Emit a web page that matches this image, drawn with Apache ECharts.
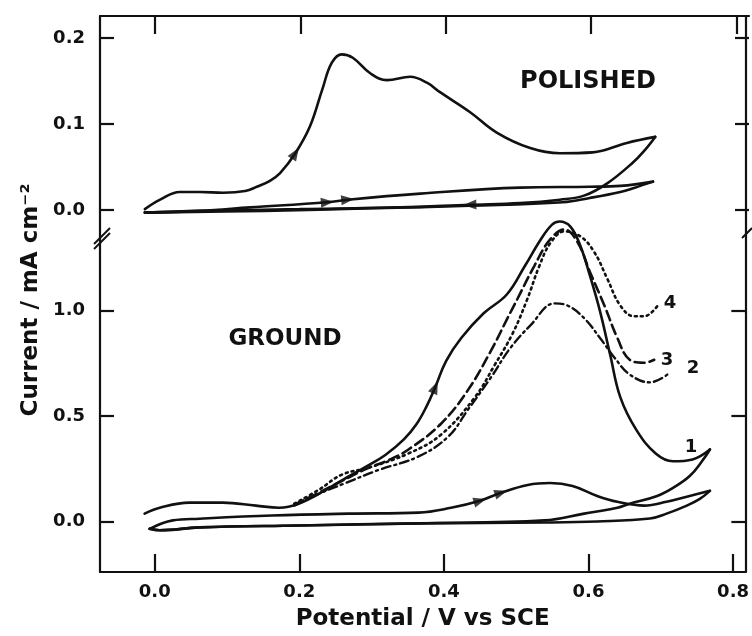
<!DOCTYPE html>
<html><head><meta charset="utf-8">
<script src="https://cdn.jsdelivr.net/npm/echarts@6/dist/echarts.min.js"></script>
<style>html,body{margin:0;padding:0;background:#fff}#c{width:752px;height:636px}</style>
</head><body><div id="c"></div>
<script>
// ---- tick labels ----
const xTicks = [0, 0.2, 0.4, 0.6, 0.8];
const yTicksTop = [0, 0.1, 0.2];
const yTicksBottom = [0, 0.5, 1.0];

// ---- POLISHED electrode (potential V, current mA cm^-2) ----
const polished1Fwd = [[-0.014,0.001],[0.007,0.012],[0.034,0.021],[0.062,0.021],[0.094,0.020],[0.124,0.022],[0.140,0.027],[0.158,0.034],[0.172,0.043],[0.193,0.066],[0.213,0.097],[0.230,0.140],[0.243,0.171],[0.257,0.181],[0.272,0.177],[0.296,0.159],[0.319,0.151],[0.351,0.155],[0.374,0.148],[0.392,0.137],[0.433,0.114],[0.470,0.090],[0.516,0.072],[0.557,0.066],[0.602,0.067],[0.649,0.078],[0.688,0.085]];
const polished1Rev = [[0.688,0.085],[0.674,0.070],[0.657,0.055],[0.622,0.031],[0.591,0.017],[0.557,0.012],[0.502,0.008],[0.433,0.006],[0.337,0.003],[0.199,0.001],[0.062,-0.001],[-0.014,-0.003]];
const polished2Fwd = [[-0.014,-0.003],[0.062,-0.001],[0.131,0.003],[0.237,0.009],[0.265,0.012],[0.365,0.019],[0.502,0.026],[0.598,0.027],[0.640,0.028],[0.685,0.033]];
const polished2Rev = [[0.685,0.033],[0.660,0.026],[0.640,0.021],[0.598,0.014],[0.561,0.009],[0.433,0.005],[0.300,0.002],[0.150,-0.001],[-0.014,-0.003]];

// ---- GROUND electrode ----
const ground1Fwd = [[-0.014,0.037],[0.007,0.065],[0.048,0.089],[0.094,0.089],[0.140,0.075],[0.172,0.065],[0.199,0.084],[0.237,0.150],[0.259,0.195],[0.290,0.255],[0.319,0.315],[0.345,0.390],[0.362,0.460],[0.376,0.545],[0.388,0.636],[0.403,0.760],[0.424,0.869],[0.455,0.986],[0.487,1.075],[0.512,1.210],[0.534,1.336],[0.550,1.407],[0.560,1.421],[0.575,1.397],[0.589,1.304],[0.602,1.164],[0.616,0.995],[0.630,0.790],[0.644,0.589],[0.666,0.435],[0.693,0.322],[0.717,0.285],[0.744,0.294],[0.768,0.341]];
const ground1Rev = [[0.768,0.341],[0.757,0.285],[0.740,0.215],[0.717,0.159],[0.695,0.121],[0.657,0.084],[0.640,0.065],[0.594,0.037],[0.539,0.005],[0.365,-0.009],[0.199,-0.019],[0.062,-0.028],[0.007,-0.042],[-0.007,-0.035]];
const groundScan2Fwd = [[-0.007,-0.035],[0.025,0.005],[0.062,0.013],[0.162,0.028],[0.268,0.037],[0.365,0.042],[0.410,0.065],[0.450,0.098],[0.479,0.136],[0.516,0.173],[0.547,0.182],[0.578,0.168],[0.612,0.121],[0.640,0.093],[0.677,0.075],[0.708,0.093],[0.740,0.121],[0.768,0.145]];
const groundScan2Rev = [[0.768,0.145],[0.754,0.107],[0.736,0.075],[0.708,0.037],[0.685,0.014],[0.612,0.000],[0.539,-0.005],[0.365,-0.009],[0.199,-0.019],[0.062,-0.028],[0.007,-0.042],[-0.007,-0.035]];
const ground2 = [[0.193,0.075],[0.227,0.131],[0.261,0.178],[0.309,0.243],[0.365,0.308],[0.406,0.402],[0.433,0.528],[0.465,0.682],[0.492,0.822],[0.520,0.930],[0.553,1.033],[0.571,1.023],[0.594,0.963],[0.616,0.869],[0.636,0.776],[0.657,0.696],[0.685,0.659],[0.713,0.706]];
const ground3 = [[0.193,0.079],[0.227,0.136],[0.259,0.192],[0.292,0.248],[0.323,0.290],[0.351,0.341],[0.396,0.463],[0.433,0.621],[0.465,0.808],[0.488,0.963],[0.502,1.056],[0.525,1.210],[0.547,1.336],[0.567,1.383],[0.585,1.322],[0.602,1.182],[0.622,1.023],[0.640,0.869],[0.657,0.766],[0.677,0.752],[0.691,0.766]];
const ground4 = [[0.193,0.084],[0.227,0.150],[0.259,0.222],[0.296,0.255],[0.351,0.322],[0.396,0.411],[0.443,0.589],[0.470,0.740],[0.495,0.890],[0.515,1.050],[0.532,1.210],[0.548,1.322],[0.567,1.374],[0.589,1.350],[0.608,1.276],[0.626,1.150],[0.644,1.023],[0.663,0.972],[0.677,0.972],[0.695,1.019]];

// scan-direction arrows: [series id, point index]
const arrowRefs = [['p1f',9],['p1r',7],['p2f',3],['p2f',4],['g1f',14],['g2f',7],['g2f',8]];

const FONT = 'DejaVu Sans';
const INK = '#111';
const chart = echarts.init(document.getElementById('c'), null, {renderer:'canvas'});
const gridBox = {left:100, right:3, top:16, bottom:59};
const xMin = -0.0757, xMax = 0.817;

function yAx(grid, pos, min, max, ticks, labels, line){
  return {type:'value', gridIndex:grid, position:pos, min:min, max:max,
    axisLine:{show:line, onZero:false, lineStyle:{color:INK, width:2.2}},
    axisTick:{show:true, inside:true, length:14, customValues:ticks, lineStyle:{color:INK, width:2.2}},
    axisLabel:{show:labels, customValues:ticks, margin:15, color:INK, fontFamily:FONT, fontSize:18, fontWeight:'bold',
      formatter:v=>Number(v).toFixed(1)},
    splitLine:{show:false}};
}
function xAx(grid, pos, labels){
  return {type:'value', gridIndex:grid, position:pos, min:xMin, max:xMax,
    axisLine:{show:true, onZero:false, lineStyle:{color:INK, width:2.2}},
    axisTick:{show:true, inside:true, length:18, customValues:xTicks, lineStyle:{color:INK, width:2.2}},
    axisLabel:{show:labels, customValues:xTicks, margin:11, color:INK, fontFamily:FONT, fontSize:18, fontWeight:'bold',
      formatter:v=>Number(v).toFixed(1)},
    splitLine:{show:false},
    name: labels ? 'Potential / V vs SCE' : '', nameLocation:'middle', nameGap:36,
    nameTextStyle:{color:INK, fontFamily:FONT, fontSize:23, fontWeight:'bold'}};
}
const seriesData = {p1f:polished1Fwd,p1r:polished1Rev,p2f:polished2Fwd,p2r:polished2Rev,
  g1f:ground1Fwd,g1r:ground1Rev,g2f:groundScan2Fwd,g2r:groundScan2Rev};
function ln(id, data, top, dash, w){
  return {id:id, type:'line', data:data, xAxisIndex: top?1:0, yAxisIndex: top?2:0,
    showSymbol:false, smooth:0.4, silent:true, animation:false,
    lineStyle:{color:INK, width:w||2.6, type:dash||'solid', cap:'round'}};
}
const series = [
  ln('p1f',polished1Fwd,true), ln('p1r',polished1Rev,true), ln('p2f',polished2Fwd,true), ln('p2r',polished2Rev,true),
  ln('g1f',ground1Fwd,false), ln('g1r',ground1Rev,false), ln('g2f',groundScan2Fwd,false), ln('g2r',groundScan2Rev,false),
  ln('g2',ground2,false,[9,4,2,4],2.4), ln('g3',ground3,false,[10,5],2.6), ln('g4',ground4,false,[2,4],2.6),
  {id:'arrowsTop', type:'scatter', xAxisIndex:1, yAxisIndex:2, data:[], symbol:'triangle', symbolSize:[10,13], itemStyle:{color:INK}, silent:true, animation:false, z:5},
  {id:'arrowsBottom', type:'scatter', xAxisIndex:0, yAxisIndex:0, data:[], symbol:'triangle', symbolSize:[10,13], itemStyle:{color:INK}, silent:true, animation:false, z:5}
];
const txt = (x,y,t,size)=>({type:'text', x:x, y:y, style:{text:t, fill:INK, font:`bold ${size}px "${FONT}"`, align:'center', verticalAlign:'middle'}});
const option = {
  animation:false, backgroundColor:'#fff',
  grid:[Object.assign({},gridBox), Object.assign({},gridBox)],
  xAxis:[xAx(0,'bottom',true), xAx(1,'top',false)],
  yAxis:[
    yAx(0,'left',-51/213,510/213,yTicksBottom,true,true),
    yAx(0,'right',-51/213,510/213,yTicksBottom,false,true),
    yAx(1,'left',-367/860,194/860,yTicksTop,true,false),
    yAx(1,'right',-367/860,194/860,yTicksTop,false,false)
  ],
  series:series,
  graphic:[
    {type:'text', x:31, y:300, rotation:Math.PI/2, style:{text:'Current / mA cm⁻²', fill:INK, font:`bold 23px "${FONT}"`, align:'center', verticalAlign:'middle'}},
    txt(588,82,'POLISHED',24), txt(285,339,'GROUND',23),
    txt(670,303,'4',18), txt(667,360,'3',18), txt(693,368,'2',18), txt(691,447,'1',18),
    {type:'line', shape:{x1:94,y1:249,x2:110,y2:233}, style:{stroke:INK, lineWidth:2}},
    {type:'line', shape:{x1:94,y1:244,x2:110,y2:228}, style:{stroke:INK, lineWidth:2}},
    {type:'line', shape:{x1:742,y1:238,x2:752,y2:228}, style:{stroke:INK, lineWidth:2}}
  ]
};
chart.setOption(option);

// compute arrow orientation from the rendered scales
const topA = [], botA = [];
arrowRefs.forEach(([id, i])=>{
  const d = seriesData[id];
  const isTop = id[0]==='p';
  const finder = isTop ? {xAxisIndex:1, yAxisIndex:2} : {xAxisIndex:0, yAxisIndex:0};
  const a = chart.convertToPixel(finder, d[Math.max(0,i-1)]);
  const b = chart.convertToPixel(finder, d[Math.min(d.length-1,i+1)]);
  const ang = Math.atan2(-(b[1]-a[1]), b[0]-a[0])*180/Math.PI - 90;
  (isTop?topA:botA).push({value:d[i], symbolRotate:ang});
});
chart.setOption({series:[{id:'arrowsTop', data:topA},{id:'arrowsBottom', data:botA}]});
</script></body></html>
